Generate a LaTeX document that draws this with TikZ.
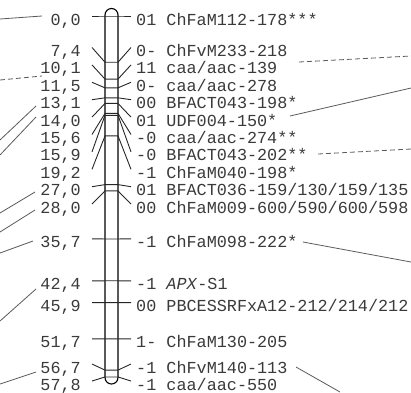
\documentclass[tikz,border=0pt]{standalone}
\usepackage{fontspec}
\setmonofont{Liberation Mono}
\definecolor{labelgray}{HTML}{3A3A3A}
\definecolor{linkgray}{HTML}{5A5A5A}
\begin{document}
\begin{tikzpicture}[x=1pt,y=-1pt,
  lbl/.style={font=\fontsize{16.8}{17}\selectfont\ttfamily, text=labelgray, inner sep=0pt},
  chrom/.style={draw=black, line width=1.1pt},
  tick/.style={draw=black!85, line width=0.9pt},
  link/.style={draw=linkgray, line width=0.8pt},
  dlink/.style={link, dash pattern=on 5pt off 3pt}]
\useasboundingbox (0,0) rectangle (411,392);

% chromosome body with rounded ends
\draw[chrom, rounded corners=6.5pt] (105,8.5) rectangle (118,384);

% markers: map position (cM) / label line y / left text / right text
\foreach \cm/\ly/\lt/\rt [count=\i] in {
  0.0/16/{0,0}/{01 ChFaM112-178***},
  7.4/47.5/{7,4}/{0- ChFvM233-218},
  10.1/64.9/{10,1}/{11 caa/aac-139},
  11.5/82.3/{11,5}/{0- caa/aac-278},
  13.1/99.7/{13,1}/{00 BFACT043-198*},
  14.0/117.1/{14,0}/{01 UDF004-150*},
  15.6/134.5/{15,6}/{-0 caa/aac-274**},
  15.9/151.9/{15,9}/{-0 BFACT043-202**},
  19.2/169.3/{19,2}/{-1 ChFaM040-198*},
  27.0/186.7/{27,0}/{01 BFACT036-159/130/159/135},
  28.0/204.1/{28,0}/{00 ChFaM009-600/590/600/598},
  35.7/238.9/{35,7}/{-1 ChFaM098-222*},
  42.4/280.8/{42,4}/{-1 \textit{APX}-S1},
  45.9/302.6/{45,9}/{00 PBCESSRFxA12-212/214/212},
  51.7/338.9/{51,7}/{1- ChFaM130-205},
  56.7/364/{56,7}/{-1 ChFvM140-113},
  57.8/381/{57,8}/{-1 caa/aac-550}} {
  \pgfmathsetmacro\my{16+6.245*\cm}
  \coordinate (a\i) at (92,\ly);
  \coordinate (b\i) at (105,\my);
  \coordinate (c\i) at (118,\my);
  \coordinate (d\i) at (131,\ly);
  \draw[tick] (a\i) -- (b\i) -- (c\i) -- (d\i);
  \node[lbl, anchor=base east] (L\i) at (81,\ly+9) {\lt};
  \node[lbl, anchor=base west] (R\i) at (136,\ly+9) {\rt};
}

% links to neighbouring maps, left side
\coordinate (p1) at (0,19);   \coordinate (q1) at (42,16);
\coordinate (p2) at (0,80);   \coordinate (q2) at (42,76);
\coordinate (p3) at (0,140);  \coordinate (q3) at (36,106);
\coordinate (p4) at (0,155);  \coordinate (q4) at (36,117);
\coordinate (p5) at (0,213);  \coordinate (q5) at (35,192);
\coordinate (p6) at (0,232);  \coordinate (q6) at (35,210);
\coordinate (p7) at (0,253);  \coordinate (q7) at (33,241);
\coordinate (p8) at (0,321);  \coordinate (q8) at (36,289);
\coordinate (p9) at (0,384);  \coordinate (q9) at (36,372);
\draw[link] (p1) -- (q1);
\draw[dlink] (p2) -- (q2);
\foreach \k in {3,...,9} \draw[link] (p\k) -- (q\k);

% links to neighbouring maps, right side
\coordinate (s1) at (299,62);  \coordinate (t1) at (411,56);
\coordinate (s2) at (290,116); \coordinate (t2) at (411,88);
\coordinate (s3) at (318,154); \coordinate (t3) at (411,149);
\coordinate (s4) at (303,242); \coordinate (t4) at (411,262);
\coordinate (s5) at (296,367); \coordinate (t5) at (340,392);
\draw[dlink] (s1) -- (t1);
\draw[link] (s2) -- (t2);
\draw[dlink] (s3) -- (t3);
\draw[link] (s4) -- (t4);
\draw[link] (s5) -- (t5);
\end{tikzpicture}
\end{document}
